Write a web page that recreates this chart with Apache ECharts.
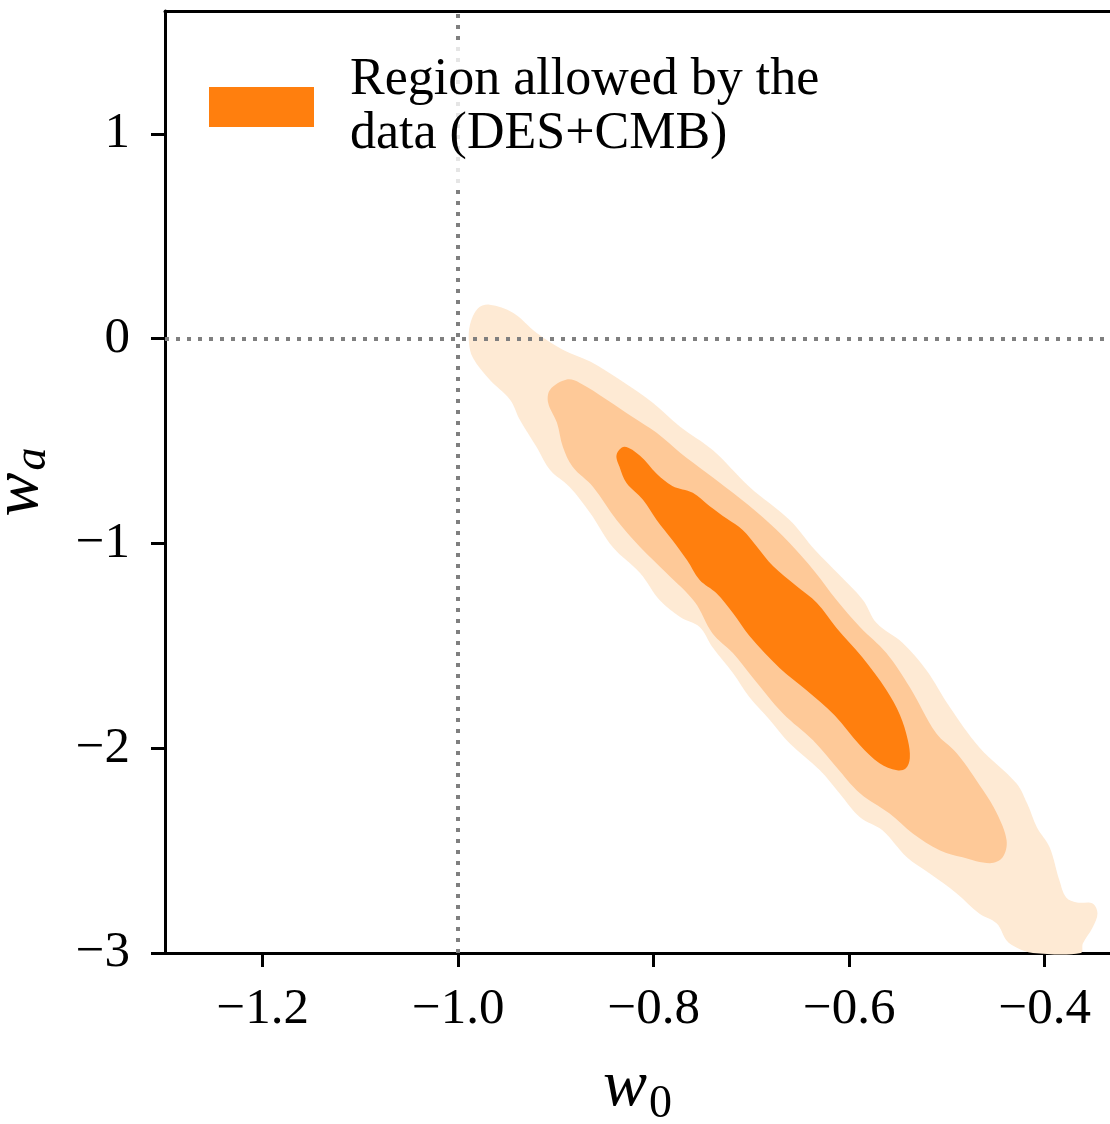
<!DOCTYPE html>
<html>
<head>
<meta charset="utf-8">
<script src="https://cdn.jsdelivr.net/npm/echarts@6/dist/echarts.min.js"></script>
<style>
  html, body { margin: 0; padding: 0; background: #ffffff; }
  #chart { width: 1110px; height: 1124px; }
</style>
</head>
<body>
<div id="chart"></div>
<script>
// ---- Data (w0, wa) ----
const xTicks = [-1.2, -1.0, -0.8, -0.6, -0.4];
const yTicks = [-3, -2, -1, 0, 1];
const xRange = [-1.3, -0.3332];
const yRange = [-3, 1.6];
const refW0 = -1.0;
const refWa = 0.0;
const legendLabel = 'Region allowed by the\ndata (DES+CMB)';

// outermost (lightest) credible region
const contourOuter = [
  [-0.968, 0.166], [-0.944, 0.127], [-0.920, 0.029], [-0.893, -0.054], [-0.865, -0.112],
  [-0.835, -0.200], [-0.801, -0.313], [-0.773, -0.430], [-0.740, -0.543], [-0.702, -0.724],
  [-0.661, -0.885], [-0.635, -1.032], [-0.610, -1.154], [-0.586, -1.276], [-0.572, -1.389],
  [-0.545, -1.487], [-0.521, -1.619], [-0.497, -1.800], [-0.467, -1.995], [-0.429, -2.171],
  [-0.418, -2.269], [-0.408, -2.386], [-0.395, -2.484], [-0.385, -2.645], [-0.378, -2.729],
  [-0.367, -2.753], [-0.351, -2.758], [-0.346, -2.807], [-0.351, -2.875], [-0.361, -2.954],
  [-0.363, -3.000], [-0.412, -3.000], [-0.429, -2.973], [-0.439, -2.939], [-0.449, -2.856],
  [-0.467, -2.807], [-0.490, -2.709], [-0.518, -2.611], [-0.541, -2.533], [-0.566, -2.401],
  [-0.589, -2.337], [-0.610, -2.220], [-0.630, -2.108], [-0.661, -1.976], [-0.681, -1.863],
  [-0.702, -1.751], [-0.719, -1.633], [-0.740, -1.506], [-0.753, -1.408], [-0.773, -1.359],
  [-0.794, -1.276], [-0.814, -1.144], [-0.842, -1.017], [-0.865, -0.851], [-0.886, -0.724],
  [-0.906, -0.641], [-0.920, -0.528], [-0.937, -0.396], [-0.947, -0.298], [-0.968, -0.200],
  [-0.985, -0.093], [-0.989, -0.020], [-0.988, 0.068], [-0.980, 0.147]
];

// middle credible region
const contourMiddle = [
  [-0.889, -0.200], [-0.876, -0.215], [-0.848, -0.298], [-0.822, -0.381], [-0.797, -0.460],
  [-0.773, -0.557], [-0.746, -0.655], [-0.719, -0.753], [-0.689, -0.870], [-0.661, -0.998],
  [-0.635, -1.139], [-0.613, -1.276], [-0.589, -1.408], [-0.562, -1.535], [-0.538, -1.702],
  [-0.511, -1.927], [-0.490, -2.024], [-0.463, -2.205], [-0.449, -2.318], [-0.439, -2.450],
  [-0.443, -2.533], [-0.456, -2.562], [-0.484, -2.533], [-0.507, -2.499], [-0.535, -2.416],
  [-0.559, -2.318], [-0.589, -2.220], [-0.613, -2.093], [-0.637, -1.961], [-0.668, -1.829],
  [-0.699, -1.653], [-0.719, -1.535], [-0.740, -1.438], [-0.758, -1.286], [-0.787, -1.144],
  [-0.814, -1.017], [-0.838, -0.885], [-0.862, -0.724], [-0.883, -0.626], [-0.893, -0.528],
  [-0.899, -0.411], [-0.908, -0.313], [-0.906, -0.249]
];

// innermost (darkest) credible region
const contourInner = [
  [-0.830, -0.528], [-0.814, -0.572], [-0.797, -0.660], [-0.781, -0.719], [-0.760, -0.753],
  [-0.743, -0.817], [-0.725, -0.880], [-0.709, -0.934], [-0.695, -1.012], [-0.678, -1.110],
  [-0.654, -1.208], [-0.633, -1.291], [-0.613, -1.413], [-0.586, -1.560], [-0.562, -1.716],
  [-0.548, -1.839], [-0.540, -1.961], [-0.538, -2.049], [-0.542, -2.098], [-0.551, -2.108],
  [-0.569, -2.073], [-0.589, -1.985], [-0.615, -1.839], [-0.644, -1.716], [-0.671, -1.609],
  [-0.702, -1.452], [-0.719, -1.340], [-0.736, -1.242], [-0.753, -1.178], [-0.766, -1.081],
  [-0.781, -0.983], [-0.797, -0.885], [-0.811, -0.787], [-0.828, -0.704], [-0.835, -0.626],
  [-0.838, -0.567]
];

// ---- Styling ----
const FONT = 'Liberation Serif';
const C_OUTER = '#feead4';
const C_MIDDLE = '#fec998';
const C_INNER = '#ff7f0e';

function fmtNum(v, d) {
  const s = Math.abs(v).toFixed(d);
  return (v < 0 ? '\u2212' : '') + s;
}

function contourSeries(name, pts, color, z) {
  return {
    type: 'custom',
    name: name,
    z: z,
    silent: true,
    coordinateSystem: 'cartesian2d',
    itemStyle: { color: color },
    data: [pts[0]],
    renderItem: function (params, api) {
      const p = pts.map(function (d) { return api.coord(d); });
      return {
        type: 'polygon',
        shape: { points: p, smooth: 0.35 },
        style: { fill: color }
      };
    }
  };
}

const chart = echarts.init(document.getElementById('chart'), null, { renderer: 'canvas' });

const nameRich = function (subItalic, drop) {
  return {
    w: { fontFamily: FONT, fontStyle: 'italic', fontSize: 66, lineHeight: 70, verticalAlign: 'top', color: '#000' },
    s: { fontFamily: FONT, fontStyle: subItalic ? 'italic' : 'normal', fontSize: 46, lineHeight: 42,
         verticalAlign: 'top', color: '#000', padding: [drop, 0, 0, 2] }
  };
};

const option = {
  animation: false,
  backgroundColor: '#ffffff',
  grid: { left: 165, right: 0, top: 11, bottom: 171, containLabel: false, outerBoundsMode: 'none' },
  legend: {
    data: [legendLabel],
    z: 10,
    left: 190,
    top: 44,
    orient: 'vertical',
    icon: 'rect',
    itemWidth: 105,
    itemHeight: 40,
    selectedMode: false,
    padding: [3, 17, 17, 19],
    backgroundColor: 'rgba(255,255,255,0.8)',
    borderWidth: 0,
    textStyle: {
      fontFamily: FONT,
      fontSize: 52,
      lineHeight: 54,
      color: '#000000',
      padding: [0, 0, 12, 31]
    }
  },
  xAxis: [
    {
      type: 'value',
      position: 'bottom',
      min: xRange[0],
      max: xRange[1],
      name: '{w|w}{s|0}',
      nameLocation: 'middle',
      nameGap: 102,
      nameTextStyle: { rich: nameRich(false, 27) },
      axisLine: { show: true, onZero: false, lineStyle: { color: '#000', width: 3 } },
      axisTick: { show: true, inside: false, length: 14, lineStyle: { color: '#000', width: 3 }, customValues: xTicks },
      axisLabel: {
        show: true, margin: 31, fontFamily: FONT, fontSize: 51, color: '#000',
        customValues: xTicks,
        formatter: function (v) { return fmtNum(v, 1); }
      },
      splitLine: { show: false }
    },
    {
      type: 'value',
      position: 'top',
      min: xRange[0],
      max: xRange[1],
      axisLine: { show: true, onZero: false, lineStyle: { color: '#000', width: 3 } },
      axisTick: { show: false },
      axisLabel: { show: false },
      splitLine: { show: false }
    }
  ],
  yAxis: [
    {
      type: 'value',
      position: 'left',
      min: yRange[0],
      max: yRange[1],
      name: '{w|w}{s|a}',
      nameLocation: 'middle',
      nameRotate: 90,
      nameGap: 108,
      nameTextStyle: { rich: nameRich(true, 23) },
      axisLine: { show: true, onZero: false, lineStyle: { color: '#000', width: 3 } },
      axisTick: { show: true, inside: false, length: 14, lineStyle: { color: '#000', width: 3 }, customValues: yTicks },
      axisLabel: {
        show: true, margin: 35, fontFamily: FONT, fontSize: 51, color: '#000',
        customValues: yTicks,
        formatter: function (v) { return fmtNum(v, 0); }
      },
      splitLine: { show: false }
    }
  ],
  series: [
    contourSeries('outer', contourOuter, C_OUTER, 2),
    contourSeries('middle', contourMiddle, C_MIDDLE, 3),
    contourSeries(legendLabel, contourInner, C_INNER, 4),
    {
      type: 'line',
      name: 'refs',
      data: [],
      z: 6,
      silent: true,
      markLine: {
        silent: true,
        symbol: ['none', 'none'],
        label: { show: false },
        animation: false,
        lineStyle: { color: '#7f7f7f', width: 4, type: [4, 7], cap: 'butt', opacity: 1 },
        emphasis: { disabled: true },
        data: [{ xAxis: refW0 }, { yAxis: refWa }]
      }
    }
  ]
};

chart.setOption(option);
</script>
</body>
</html>
